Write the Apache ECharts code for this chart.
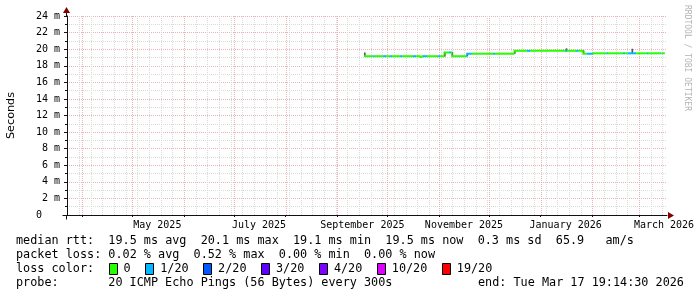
<!DOCTYPE html>
<html>
<head>
<meta charset="utf-8">
<script src="https://cdn.jsdelivr.net/npm/echarts@6/dist/echarts.min.js"></script>
<style>
html,body{margin:0;padding:0;background:#fff;}
#c{width:697px;height:297px;}
</style>
</head>
<body>
<div id="c"></div>
<script>
// ---------- data ----------
const rangeStart = '2025-03-22 19:14';
const rangeEnd = '2026-03-17 19:14';
const lineEnd = '2026-03-16 12:00';

const xLabels = ['May 2025', 'July 2025', 'September 2025', 'November 2025', 'January 2026', 'March 2026'];
const xLabelDates = ['2025-05-16 00:00', '2025-07-16 00:00', '2025-09-16 00:00', '2025-11-16 00:00', '2026-01-16 00:00', '2026-03-16 00:00'];
const monthStarts = ['2025-04-01', '2025-05-01', '2025-06-01', '2025-07-01', '2025-08-01', '2025-09-01',
  '2025-10-01', '2025-11-01', '2025-12-01', '2026-01-01', '2026-02-01', '2026-03-01'];
const firstWeekStart = '2025-03-23';

const yMax = 24;
const yStep = 2;

// median rtt segments (ms): start time, value, lost pings out of 20
const segStart = [
  '2025-09-17 00:00', '2025-09-22 12:00', '2025-09-23 12:00', '2025-09-28 12:00', '2025-09-30 06:00',
  '2025-10-02 14:00', '2025-10-03 18:00', '2025-10-08 14:00', '2025-10-09 18:00', '2025-10-16 10:00',
  '2025-10-18 06:00', '2025-10-20 14:00', '2025-10-21 18:00', '2025-10-22 10:00', '2025-10-24 18:00',
  '2025-10-31 10:00', '2025-11-01 14:00', '2025-11-04 00:00', '2025-11-07 00:00', '2025-11-08 04:00',
  '2025-11-08 18:00', '2025-11-17 18:00', '2025-11-20 18:00', '2025-12-03 10:00', '2025-12-04 14:00',
  '2025-12-16 00:00', '2025-12-23 18:00', '2025-12-25 14:00', '2026-01-15 14:00', '2026-01-16 18:00',
  '2026-01-22 06:00', '2026-01-23 10:00', '2026-01-26 10:00', '2026-01-28 18:00', '2026-02-01 10:00',
  '2026-02-09 18:00', '2026-02-10 10:00', '2026-02-19 10:00', '2026-02-20 14:00', '2026-02-22 10:00',
  '2026-02-27 06:00', '2026-03-05 18:00', '2026-03-06 10:00', '2026-03-13 18:00', '2026-03-14 10:00'
];
const segRtt = [
  19.15, 19.15, 19.15, 19.15, 19.15,
  19.15, 19.15, 19.15, 19.15, 19.15,
  19.15, 19.05, 19.15, 19.15, 19.15,
  19.15, 19.15, 19.6, 19.6, 19.6,
  19.15, 19.45, 19.45, 19.45, 19.45,
  19.8, 19.8, 19.8, 19.8, 19.8,
  19.8, 19.8, 19.45, 19.45, 19.5,
  19.5, 19.5, 19.5, 19.5, 19.5,
  19.5, 19.5, 19.5, 19.5, 19.5
];
const segLoss = [
  0, 1, 0, 1, 0,
  1, 0, 1, 0, 1,
  0, 0, 0, 1, 0,
  1, 0, 0, 1, 0,
  0, 1, 0, 1, 0,
  0, 1, 0, 1, 0,
  1, 0, 0, 1, 0,
  1, 0, 1, 0, 1,
  0, 1, 0, 1, 0
];

// visible smoke (ping spread) bits, ms
const smokeStart = ['2025-09-17 00:00', '2025-11-04 00:00', '2025-11-08 12:00', '2025-11-17 12:00',
  '2025-12-16 00:00', '2026-01-16 00:00', '2026-01-26 06:00', '2026-02-24 12:00'];
const smokeLo = [19.05, 19.1, 19.1, 19.15, 19.45, 19.75, 19.45, 19.5];
const smokeHi = [19.6, 19.65, 19.65, 19.5, 19.85, 20.1, 19.85, 20.05];

// legend
const lossLevels = [0, 1, 2, 3, 4, 10, 19];
const lossLabels = ['0', '1/20', '2/20', '3/20', '4/20', '10/20', '19/20'];
const lossColors = ['#26ff00', '#00b8ff', '#0059ff', '#5e00ff', '#7e00ff', '#dd00ff', '#ff0000'];
const rttStats = ['19.5', '20.1', '19.1', '19.5', '0.3'];
const rateStat = '65.9';
const lossStats = ['0.02', '0.52', '0.00', '0.00'];
const probeText = '20 ICMP Echo Pings (56 Bytes) every 300s';
const endText = 'end: Tue Mar 17 19:14:30 2026';
const watermark = 'RRDTOOL / TOBI OETIKER';

// ---------- helpers ----------
function ts(s) {
  const str = s.length <= 10 ? s + 'T00:00' : s.replace(' ', 'T');
  return new Date(str).getTime();
}
const DAY = 86400000;
const xMin = ts(rangeStart), xMax = ts(rangeEnd);

function lossColor(l) {
  let c = lossColors[0];
  for (let i = 0; i < lossLevels.length; i++) if (l >= lossLevels[i]) c = lossColors[i];
  return c;
}

const medianData = segStart.map((s, i) => [
  ts(s),
  i + 1 < segStart.length ? ts(segStart[i + 1]) : ts(lineEnd),
  segRtt[i], segLoss[i],
  i > 0 ? segRtt[i - 1] : segRtt[i]
]);
const smokeData = smokeStart.map((s, i) => [ts(s), ts(s) + DAY, smokeLo[i], smokeHi[i]]);

const gridData = [];
{
  const d0 = new Date(ts(firstWeekStart));
  for (let k = 0; ; k++) {
    const t = new Date(d0.getFullYear(), d0.getMonth(), d0.getDate() + 7 * k).getTime();
    if (t >= xMax) break;
    gridData.push([t, 0]);
  }
}
monthStarts.forEach(m => gridData.push([ts(m), 1]));

const labelTimes = xLabelDates.map(ts);
const mono = 'DejaVu Sans Mono';
const majorGrid = '#ebb4b4';
const minorGrid = '#d9d9d9';

const chart = echarts.init(document.getElementById('c'), null, {renderer: 'canvas'});

const option = {
  animation: false,
  backgroundColor: '#ffffff',
  grid: {left: 67, right: 30, top: 16, bottom: 82, containLabel: false, outerBoundsMode: 'none'},
  xAxis: {
    type: 'value', min: xMin, max: xMax, scale: true,
    axisLine: {show: true, lineStyle: {color: '#111', width: 1}},
    axisTick: {show: true, customValues: monthStarts.map(ts), length: 2, lineStyle: {color: '#111'}},
    splitLine: {show: false},
    axisLabel: {
      customValues: labelTimes,
      formatter: function (v) {
        let best = 0, bd = Infinity;
        labelTimes.forEach((t, i) => { const d = Math.abs(t - v); if (d < bd) { bd = d; best = i; } });
        return xLabels[best];
      },
      fontFamily: mono, fontSize: 10, color: '#000', margin: 5, hideOverlap: false
    }
  },
  yAxis: {
    type: 'value', min: 0, max: yMax, interval: yStep,
    name: 'Seconds', nameLocation: 'middle', nameGap: 50,
    nameTextStyle: {fontFamily: 'DejaVu Sans', fontSize: 11.2, color: '#000'},
    axisLine: {show: true, lineStyle: {color: '#111', width: 1}},
    axisTick: {show: true, length: 3, lineStyle: {color: '#111'}},
    minorTick: {show: true, splitNumber: 2, length: 2, lineStyle: {color: '#111'}},
    axisLabel: {
      formatter: v => v === 0 ? '0   ' : v + ' m',
      fontFamily: mono, fontSize: 10, color: '#000', margin: 7
    },
    splitLine: {show: true, lineStyle: {color: majorGrid, type: [1, 1], width: 1}},
    minorSplitLine: {show: true, lineStyle: {color: minorGrid, type: [1, 1], width: 1}}
  },
  series: [
    {
      type: 'custom', name: 'grid', z: 1, silent: true,
      data: gridData, encode: {x: 0},
      renderItem: function (params, api) {
        const cs = params.coordSys;
        const x = Math.round(api.coord([api.value(0), 0])[0]) + 0.5;
        if (x <= cs.x + 1 || x >= cs.x + cs.width) return null;
        const major = api.value(1) === 1;
        return {
          type: 'line',
          shape: {x1: x, y1: cs.y, x2: x, y2: cs.y + cs.height},
          style: {stroke: major ? majorGrid : minorGrid, lineWidth: 1, lineDash: [1, 1]}
        };
      }
    },
    {
      type: 'custom', name: 'smoke', z: 2, silent: true,
      data: smokeData, encode: {x: [0, 1], y: [2, 3]},
      renderItem: function (params, api) {
        const a = api.coord([api.value(0), api.value(3)]);
        const b = api.coord([api.value(1), api.value(2)]);
        return {type: 'rect', shape: {x: a[0], y: a[1], width: Math.max(1.5, b[0] - a[0]), height: b[1] - a[1]},
          style: {fill: '#555555'}};
      }
    },
    {
      type: 'custom', name: 'median rtt', z: 3, silent: true,
      data: medianData, encode: {x: [0, 1], y: 2},
      renderItem: function (params, api) {
        const s = api.coord([api.value(0), api.value(2)]);
        const e = api.coord([api.value(1), api.value(2)]);
        const color = lossColor(api.value(3));
        const children = [{type: 'rect', shape: {x: s[0], y: s[1] - 1, width: e[0] - s[0], height: 2}, style: {fill: color}}];
        const prev = api.value(4);
        if (prev !== api.value(2)) {
          const p = api.coord([api.value(0), prev]);
          children.push({type: 'rect', shape: {x: s[0] - 0.5, y: Math.min(p[1], s[1]) - 1, width: 1, height: Math.abs(p[1] - s[1]) + 2},
            style: {fill: color}});
        }
        return {type: 'group', children: children};
      }
    }
  ]
};
chart.setOption(option);

// ---------- decorations: arrows, legend text ----------
const o = chart.convertToPixel({gridIndex: 0}, [xMin, 0]);
const tr = chart.convertToPixel({gridIndex: 0}, [xMax, yMax]);
const ax = Math.round(o[0]) - 0.5, ay = Math.round(o[1]) + 0.5;
const arrowColor = '#7f0000';
const g = [];
g.push({type: 'line', shape: {x1: ax - 4, y1: ay, x2: ax, y2: ay}, style: {stroke: '#111', lineWidth: 1}});
g.push({type: 'line', shape: {x1: ax, y1: ay, x2: ax, y2: ay + 4}, style: {stroke: '#111', lineWidth: 1}});
g.push({type: 'line', shape: {x1: ax, y1: tr[1], x2: ax, y2: tr[1] - 3}, style: {stroke: '#111', lineWidth: 1}});
g.push({type: 'polygon', shape: {points: [[ax - 3.5, tr[1] - 3], [ax + 3.5, tr[1] - 3], [ax, tr[1] - 9]]}, style: {fill: arrowColor}});
g.push({type: 'polygon', shape: {points: [[tr[0] + 1, ay - 3.5], [tr[0] + 1, ay + 3.5], [tr[0] + 7, ay]]}, style: {fill: arrowColor}});

const CW = 7.1, lx = 16, fs = 11.8;
const rows = [241, 255, 269, 283];
function txt(str, x, y) {
  return {type: 'text', x: x, y: y, style: {text: str, fontFamily: mono, fontSize: fs, fill: '#000', align: 'left', verticalAlign: 'middle'}};
}
const row1 = 'median rtt:  ' + rttStats[0] + ' ms avg  ' + rttStats[1] + ' ms max  ' + rttStats[2] + ' ms min  ' +
  rttStats[3] + ' ms now  ' + rttStats[4] + ' ms sd  ' + rateStat + '   am/s';
const row2 = 'packet loss: ' + lossStats[0] + ' % avg  ' + lossStats[1] + ' % max  ' + lossStats[2] + ' % min  ' + lossStats[3] + ' % now';
g.push(txt(row1, lx, rows[0]));
g.push(txt(row2, lx, rows[1]));
g.push(txt('loss color:', lx, rows[2]));
let bx = 108.6;
lossLabels.forEach((lab, i) => {
  g.push({type: 'rect', shape: {x: Math.round(bx) + 0.5, y: rows[2] - 5.5, width: 8, height: 11},
    style: {fill: lossColors[i], stroke: '#000', lineWidth: 1}});
  g.push(txt(lab, bx + 15, rows[2]));
  bx += 15 + lab.length * CW + 14.5;
});
g.push(txt('probe:', lx, rows[3]));
g.push(txt(probeText, lx + 13 * CW, rows[3]));
g.push(txt(endText, 478, rows[3]));
g.push({type: 'text', x: 687, y: 5, rotation: -Math.PI / 2,
  style: {text: watermark, fontFamily: mono, fontSize: 8, fill: '#b4b4b4', align: 'left', verticalAlign: 'middle'}});

chart.setOption({graphic: g});
</script>
</body>
</html>
